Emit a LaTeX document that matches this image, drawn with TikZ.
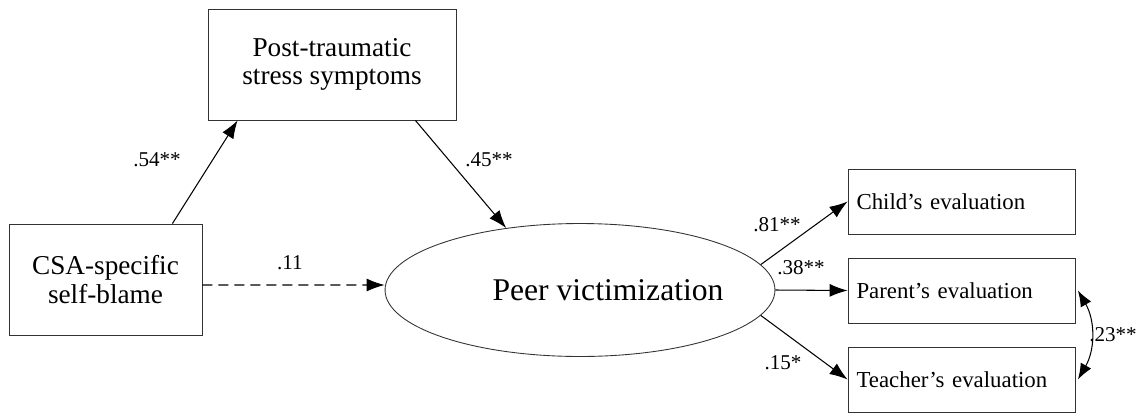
\documentclass[tikz,border=0pt]{standalone}
\usepackage{fontspec}
\setmainfont{Liberation Serif}
\usetikzlibrary{arrows.meta, shapes.geometric}

\begin{document}
\begin{tikzpicture}[x=0.02cm, y=-0.02cm,
    varbox/.style={draw=black!80, line width=0.5pt, align=center, font=\fontsize{15.5}{16}\selectfont},
    indbox/.style={draw=black!80, line width=0.5pt, minimum width=4.54cm, minimum height=1.3cm,
                   text width=4.2cm, align=left, font=\fontsize{13}{15}\selectfont},
    path/.style={line width=0.6pt, -{Latex[length=0.36cm, width=0.26cm]}},
    coef/.style={font=\fontsize{12}{14}\selectfont}]
    \useasboundingbox (0,0) rectangle (1140,413);

    % variables
    \node[varbox, minimum width=4.96cm, minimum height=2.22cm] (ptss) at (332,64.5) {Post-traumatic\\stress symptoms};
    \node[varbox, minimum width=3.86cm, minimum height=2.22cm] (csa) at (105.5,279.5) {CSA-specific\\self-blame};
    \node[draw=black!80, line width=0.5pt, ellipse, inner sep=0pt, minimum width=7.8cm, minimum height=2.66cm,
          font=\fontsize{18}{20}\selectfont] (pv) at (580,290) {\makebox[0pt]{\hspace*{1.12cm}Peer victimization}};

    % indicators
    \node[indbox] (child) at (961.5,201.5) {Child's evaluation};
    \node[indbox] (parent) at (961.5,290.5) {Parent's evaluation};
    \node[indbox] (teacher) at (961.5,379.5) {Teacher's evaluation};

    % paths
    \draw[path] ([xshift=-0.6cm]csa.north east) -- ([xshift=0.6cm]ptss.south west);
    \draw[path] ([xshift=-0.82cm]ptss.south east) -- (pv.140);
    \draw[path, dash pattern=on 0.2cm off 0.12cm] ([yshift=-0.11cm]csa.east) -- ([yshift=0.1cm]pv.west);
    \draw[path] (pv.8.5) -- (child.west);
    \draw[path] (pv.east) -- (parent.west);
    \draw[path] (pv.-8) -- (teacher.west);
    \draw[line width=0.6pt, {Latex[length=0.32cm, width=0.24cm]}-{Latex[length=0.32cm, width=0.24cm]}]
        ([xshift=0.05cm]parent.east) to[bend left=30] ([xshift=0.05cm]teacher.east);

    % coefficients
    \node[coef] (c54) at (157,160) {.54**};
    \node[coef] (c45) at (489,160) {.45**};
    \node[coef] (c11) at (290,263) {.11};
    \node[coef] (c81) at (777,225) {.81**};
    \node[coef] (c38) at (801,268) {.38**};
    \node[coef] (c15) at (783,363) {.15*};
    \node[coef] (c23) at (1113,335) {.23**};
\end{tikzpicture}
\end{document}
